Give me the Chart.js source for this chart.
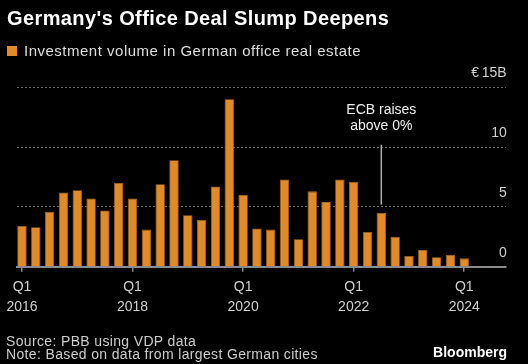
<!DOCTYPE html>
<html>
<head>
<meta charset="utf-8">
<script src="https://cdn.jsdelivr.net/npm/chart.js@4.4.1/dist/chart.umd.min.js"></script>
<style>
  html, body { margin: 0; padding: 0; background: #000; }
  body { width: 528px; height: 364px; position: relative; overflow: hidden; font-family: "Liberation Sans", Arial, sans-serif; }
  #chartBox { position: absolute; left: 0; top: 0; width: 528px; height: 364px; }
  .title { position: absolute; left: 7px; top: 6px; color: #fff; font-weight: bold; font-size: 20px; letter-spacing: 0.4px; line-height: 24px; }
  .legend { position: absolute; left: 7px; top: 41px; color: #ddd; font-size: 15px; letter-spacing: 0.5px; line-height: 20px; }
  .legend i { display: inline-block; width: 10px; height: 10px; background: #e08b27; margin-right: 7px; vertical-align: 0px; }
  .foot { position: absolute; left: 6px; top: 335px; color: #ccc; font-size: 14px; letter-spacing: 0.35px; line-height: 13px; }
  .brand { position: absolute; right: 21px; top: 345px; color: #fff; font-weight: bold; font-size: 14px; line-height: 14px; }
</style>
</head>
<body>
<div id="chartBox"><canvas id="dealChart" width="528" height="364"></canvas></div>
<div class="title">Germany's Office Deal Slump Deepens</div>
<div class="legend"><i></i>Investment volume in German office real estate</div>
<div class="foot">Source: PBB using VDP data<br>Note: Based on data from largest German cities</div>
<div class="brand">Bloomberg</div>
<script>
// Quarterly office investment volume, EUR billions (Q1 2016 .. Q1 2024)
const quarters = [];
for (let yr = 2016; yr <= 2024; yr++) {
    for (let q = 1; q <= 4; q++) {
        if (yr === 2024 && q > 1) break;
        quarters.push('Q' + q + ' ' + yr);
    }
}
const volume = [
    3.4, 3.3, 4.6, 6.2, 6.4, 5.7, 4.7, 7.0,
    5.7, 3.1, 6.9, 8.9, 4.3, 3.9, 6.7, 14.0,
    6.0, 3.2, 3.1, 7.3, 2.3, 6.3, 5.4, 7.3,
    7.1, 2.9, 4.5, 2.5, 0.9, 1.4, 0.8, 1.0,
    0.7
];
const yTicks = [0, 5, 10, 15];
const xTickIdx = [0, 8, 16, 24, 32];

// annotation: ECB raises above 0% (Q3 2022)
const ecbIndex = 26;
const ecbLine = [5.2, 10.2];
const ecbText = ['ECB raises', 'above 0%'];

const ecbPlugin = {
    id: 'ecbNote',
    afterDatasetsDraw(chart) {
        const { ctx, scales } = chart;
        const x = scales.x.getPixelForValue(ecbIndex);
        const y1 = scales.y.getPixelForValue(ecbLine[0]);
        const y2 = scales.y.getPixelForValue(ecbLine[1]);
        ctx.save();
        ctx.strokeStyle = '#b0b0b0';
        ctx.lineWidth = 1.5;
        ctx.beginPath();
        ctx.moveTo(x, y1);
        ctx.lineTo(x, y2);
        ctx.stroke();
        ctx.fillStyle = '#eee';
        ctx.font = '14px "Liberation Sans", Arial, sans-serif';
        ctx.textAlign = 'center';
        ctx.textBaseline = 'middle';
        ctx.fillText(ecbText[0], x, y2 - 35);
        ctx.fillText(ecbText[1], x, y2 - 19);
        ctx.restore();
    }
};

const ctx = document.getElementById('dealChart').getContext('2d');
new Chart(ctx, {
    type: 'bar',
    data: {
        datasets: [{
            label: 'Investment volume in German office real estate',
            data: volume.map((v, i) => ({ x: i, y: v })),
            backgroundColor: '#e08b27',
            borderColor: '#b06a1c',
            borderWidth: 0.8,
            barPercentage: 0.68,
            categoryPercentage: 1
        }]
    },
    options: {
        responsive: false,
        animation: false,
        layout: { padding: { left: 17, right: 22.3, top: 87.3, bottom: 47.3 } },
        plugins: {
            legend: { display: false },
            tooltip: { enabled: false }
        },
        scales: {
            x: {
                type: 'linear',
                min: -0.36,
                max: 35,
                offset: false,
                afterFit: s => { s.height = 50; },
                afterBuildTicks: s => { s.ticks = xTickIdx.map(v => ({ value: v })); },
                grid: { offset: false, drawOnChartArea: false, drawTicks: true, tickLength: 5, color: '#8a8a8a', lineWidth: 1.5 },
                border: { display: true, color: '#8a8a8a', width: 2 },
                ticks: {
                    color: '#d0d0d0',
                    padding: 6,
                    maxRotation: 0,
                    autoSkip: false,
                    font: { family: '"Liberation Sans", Arial, sans-serif', size: 14, lineHeight: 1.38 },
                    callback: v => quarters[v] ? quarters[v].split(' ') : ''
                }
            },
            y: {
                position: 'right',
                min: 0,
                max: 15,
                afterFit: s => { s.width = 0; },
                afterBuildTicks: s => { s.ticks = yTicks.map(v => ({ value: v })); },
                grid: {
                    drawTicks: false,
                    color: c => c.tick && c.tick.value === 0 ? 'rgba(0,0,0,0)' : '#6a6a6a',
                    lineWidth: 1
                },
                border: { display: false, dash: [2, 2] },
                ticks: {
                    mirror: true,
                    padding: 1,
                    labelOffset: -14,
                    color: '#d0d0d0',
                    font: { family: '"Liberation Sans", Arial, sans-serif', size: 14 },
                    callback: v => v === 15 ? '€\u200915B' : v
                }
            }
        }
    },
    plugins: [ecbPlugin]
});
</script>
</body>
</html>
